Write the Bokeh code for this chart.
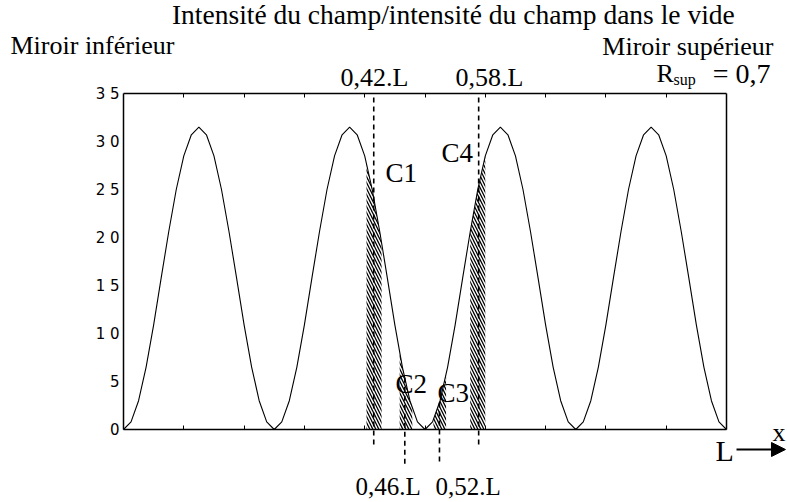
import numpy as np
from bokeh.plotting import figure
from bokeh.models import Range1d, FixedTicker, Label, Arrow, NormalHead, LinearAxis
from bokeh.embed import file_html
from bokeh.resources import INLINE

# ---- data ----
position = np.linspace(0.0, 1.0, 81)          # x / L
intensity = [
    0.0, 0.8, 3.0, 6.5, 10.9, 15.8, 20.6, 25.0, 28.5, 30.7,
    31.5, 30.7, 28.5, 25.0, 20.6, 15.8, 10.9, 6.5, 3.0, 0.8,
    0.0, 0.8, 3.0, 6.5, 10.9, 15.8, 20.6, 25.0, 28.5, 30.7,
    31.5, 30.7, 28.5, 25.0, 20.6, 15.8, 10.9, 6.5, 3.0, 0.8,
    0.0, 0.8, 3.0, 6.5, 10.9, 15.8, 20.6, 25.0, 28.5, 30.7,
    31.5, 30.7, 28.5, 25.0, 20.6, 15.8, 10.9, 6.5, 3.0, 0.8,
    0.0, 0.8, 3.0, 6.5, 10.9, 15.8, 20.6, 25.0, 28.5, 30.7,
    31.5, 30.7, 28.5, 25.0, 20.6, 15.8, 10.9, 6.5, 3.0, 0.8,
    0.0,
]
cut_names = ["C1", "C2", "C3", "C4"]
cut_labels = ["0,42.L", "0,46.L", "0,52.L", "0,58.L"]
cut_x = [0.415, 0.4665, 0.524, 0.589]
band_lo = [0.403, 0.458, 0.514, 0.575]
band_hi = [0.428, 0.479, 0.535, 0.600]
y_ticks = [0, 5, 10, 15, 20, 25, 30, 35]
y_tick_labels = ["0", "5", "1 0", "1 5", "2 0", "2 5", "3 0", "3 5"]
x_ticks = [0.1, 0.2, 0.3, 0.4, 0.5, 0.6, 0.7, 0.8, 0.9]

SERIF = "Liberation Serif"
no_x_labels = {t: "" for t in x_ticks}

# frame covers the whole canvas; plot box is drawn by fixed-location axes
p = figure(width=786, height=502,
           x_range=Range1d(-123 / 603, (786 - 123) / 603),
           y_range=Range1d(-73 * 35 / 336, 429 * 35 / 336),
           output_backend="svg", toolbar_location=None, min_border=0)
p.grid.visible = False
p.outline_line_color = None
p.background_fill_color = "white"
p.border_fill_color = "white"

xa = p.xaxis[0]
xa.fixed_location = 0
xa.bounds = (0, 1)
xa.ticker = FixedTicker(ticks=x_ticks)
xa.major_label_overrides = no_x_labels
xa.major_tick_in = 4
xa.major_tick_out = 0
xa.minor_tick_in = 0
xa.minor_tick_out = 0
xa.axis_line_width = 1.5

top_ax = LinearAxis(fixed_location=35, bounds=(0, 1), ticker=FixedTicker(ticks=x_ticks),
                    major_label_overrides=no_x_labels,
                    major_tick_in=4, major_tick_out=0, minor_tick_in=0, minor_tick_out=0,
                    axis_line_width=1.5)
p.add_layout(top_ax, "above")

ya = p.yaxis[0]
ya.fixed_location = 0
ya.bounds = (0, 35)
ya.ticker = FixedTicker(ticks=y_ticks)
ya.major_label_overrides = {t: s for t, s in zip(y_ticks, y_tick_labels)}
ya.major_tick_in = 0
ya.major_tick_out = 0
ya.minor_tick_in = 0
ya.minor_tick_out = 0
ya.axis_line_width = 1.5
ya.major_label_standoff = 4
ya.major_label_text_font = "DejaVu Sans"
ya.major_label_text_font_size = "15px"
ya.major_label_text_color = "black"

right_ax = LinearAxis(fixed_location=1, bounds=(0, 35), ticker=FixedTicker(ticks=[]),
                      major_tick_in=0, major_tick_out=0, minor_tick_in=0, minor_tick_out=0,
                      axis_line_width=1.5)
p.add_layout(right_ax, "right")

# hatched bands under the curve
for lo, hi in zip(band_lo, band_hi):
    xs = np.linspace(lo, hi, 12)
    ys = np.interp(xs, position, intensity)
    p.varea(x=xs, y1=np.zeros_like(xs), y2=ys, fill_color=None,
            hatch_pattern="\\", hatch_color="black", hatch_weight=1.3, hatch_scale=6)

p.line(position, intensity, line_color="black", line_width=1.1)

# dashed cut lines
tops = [34.58, float(np.interp(cut_x[1], position, intensity)),
        float(np.interp(cut_x[2], position, intensity)), 34.58]
bottoms = [-1.98, -3.75, -3.75, -1.98]
for cx, t, b in zip(cut_x, tops, bottoms):
    p.add_layout(Arrow(end=None, start=None, x_start=cx, y_start=t, x_end=cx, y_end=b,
                       line_dash="5 4", line_width=1.6, line_color="black"))

def lab(x, y, text, size="26px", align="left"):
    p.add_layout(Label(x=x, y=y, text=text, text_font=SERIF, text_font_size=size,
                       text_align=align, text_baseline="middle", text_color="black"))

lab(0.547, 43.23, "Intensité du champ/intensité du champ dans le vide", "27.5px", "center")
lab(-0.1874, 40.0, "Miroir inférieur")
lab(1.0779, 39.9, "Miroir supérieur", align="right")
lab(0.8839, 37.08, "R")
lab(0.9121, 36.46, "sup", "16px")
lab(1.073, 37.08, "= 0,7", "28px", "right")

lab(0.3599, 36.67, cut_labels[0])
lab(0.5506, 36.67, cut_labels[3])
lab(0.3847, -5.94, cut_labels[1], "25px")
lab(0.5174, -5.94, cut_labels[2], "25px")

lab(0.4345, 26.67, cut_names[0], "27px")
lab(0.4511, 4.79, cut_names[1], "27px")
lab(0.5207, 3.85, cut_names[2], "27px")
lab(0.5274, 28.85, cut_names[3], "27px")

lab(0.9818, -2.19, "L", "30px")
lab(1.0978, -0.31, "x", "26px", "right")
p.add_layout(Arrow(end=NormalHead(size=14, fill_color="black", line_color="black"),
                   x_start=1.0166, y_start=-2.083, x_end=1.0978, y_end=-2.083,
                   line_width=2, line_color="black"))

open("out.html", "w").write(file_html(p, INLINE))
